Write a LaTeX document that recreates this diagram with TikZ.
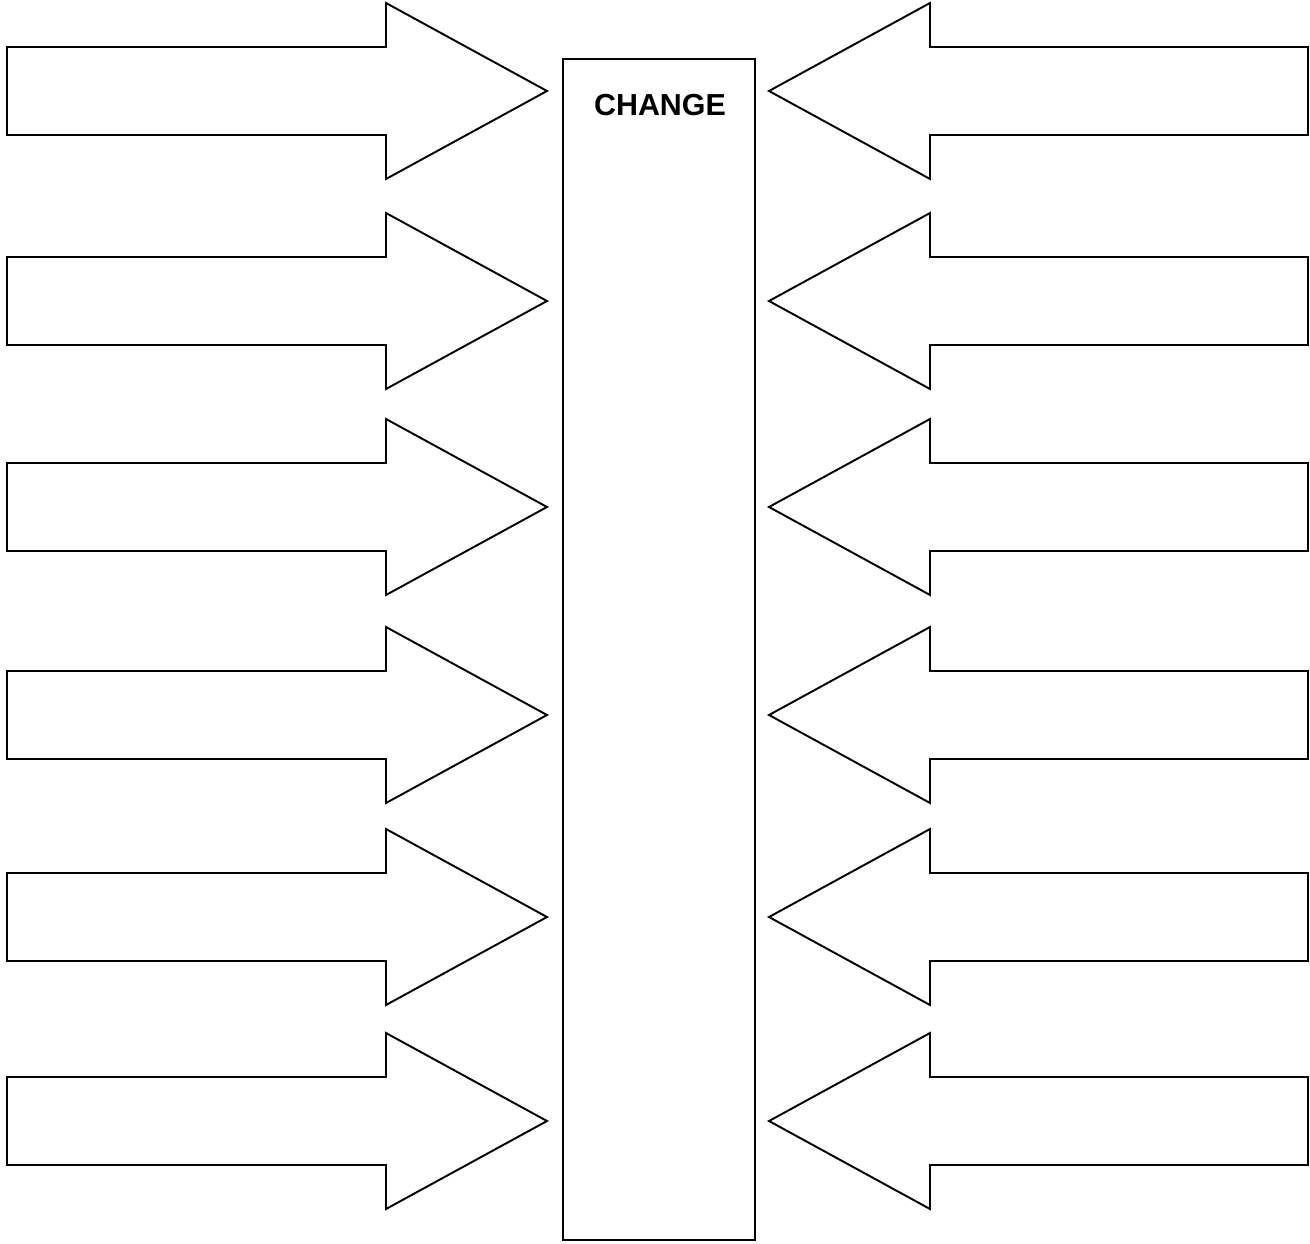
\documentclass[tikz,border=0pt]{standalone}
\usepackage{fontspec}
\setmainfont{Liberation Sans}
\usetikzlibrary{positioning}

\begin{document}
\begin{tikzpicture}[x=0.02cm,y=-0.02cm,line width=1.1pt,line join=miter,
  arrowshape/.style={draw=black,fill=white}]
\useasboundingbox (0,0) rectangle (1310,1243);
% Central box
\coordinate (boxtl) at (563,59);
\coordinate (boxbr) at (755,1240);
\draw (boxtl) rectangle (boxbr);
\node[font=\fontsize{17.3}{20}\selectfont\bfseries] (title) at (660,105) {CHANGE};
% Arrows pointing in from both sides
\foreach \c in {91,301,507,715,917,1121} {
  \draw[arrowshape] (7,\c-44) -- (386,\c-44) -- (386,\c-88) -- (547,\c)
    -- (386,\c+88) -- (386,\c+44) -- (7,\c+44) -- cycle;
  \draw[arrowshape] (1308,\c-44) -- (930,\c-44) -- (930,\c-88) -- (769,\c)
    -- (930,\c+88) -- (930,\c+44) -- (1308,\c+44) -- cycle;
}
\end{tikzpicture}
\end{document}
